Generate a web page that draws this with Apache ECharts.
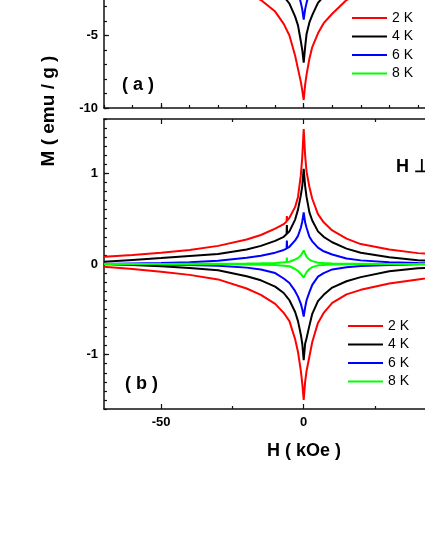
<!DOCTYPE html>
<html>
<head>
<meta charset="utf-8">
<script src="https://cdn.jsdelivr.net/npm/echarts@6/dist/echarts.min.js"></script>
<style>
  html, body { margin: 0; padding: 0; background: #fff; }
  #chart { width: 425px; height: 550px; }
</style>
</head>
<body>
<div id="chart"></div>
<script>
'use strict';

// field H (kOe), panel (a) and panel (b)
const fieldA = [-70, -60, -50, -40, -30, -20, -15, -10, -7, -5, -3, -2, -1, -0.5, 0, 0.5, 1, 2, 3, 5, 7, 10, 15, 20, 30, 40, 50, 60, 70];
const fieldB = [-70, -60, -50, -40, -30, -20, -15, -10, -7, -6, -5.9, -5.8, -5, -3, -2, -1, -0.5, 0, 0.5, 1, 2, 3, 5, 7, 10, 15, 20, 30, 40, 50, 60, 70];

const temps = ['2 K', '4 K', '6 K', '8 K'];
const colors = ['#ff0000', '#000000', '#0000ff', '#00ff00'];

// panel (a), M (emu/g)
const a2KUp   = [0.45, 0.6, 0.8, 1.1, 1.5, 2.1, 2.55, 3.5, 4.15, 4.85, 5.8, 6.6, 7.7, 8.4, 9.45, 8.8, 8.2, 7.3, 6.4, 5.0, 4.2, 3.35, 2.55, 2.1, 1.4, 1.0, 0.75, 0.55, 0.4];
const a2KDown = [-0.4, -0.55, -0.75, -1.0, -1.4, -2.1, -2.55, -3.35, -4.2, -5.0, -6.4, -7.3, -8.2, -8.8, -9.45, -8.4, -7.7, -6.6, -5.8, -4.85, -4.15, -3.5, -2.55, -2.1, -1.5, -1.1, -0.8, -0.6, -0.45];
const a4KUp   = [0.16, 0.22, 0.3, 0.42, 0.6, 0.95, 1.25, 1.8, 2.3, 2.75, 3.6, 4.1, 4.9, 5.8, 6.87, 6.0, 5.4, 4.3, 3.7, 2.8, 2.3, 1.8, 1.2, 0.9, 0.55, 0.38, 0.28, 0.2, 0.15];
const a4KDown = [-0.15, -0.2, -0.28, -0.38, -0.55, -0.9, -1.2, -1.8, -2.3, -2.8, -3.7, -4.3, -5.4, -6.0, -6.87, -5.8, -4.9, -4.1, -3.6, -2.75, -2.3, -1.8, -1.25, -0.95, -0.6, -0.42, -0.3, -0.22, -0.16];
const a6KUp   = [0.04, 0.05, 0.07, 0.1, 0.15, 0.27, 0.38, 0.55, 0.8, 1.05, 1.6, 2.0, 2.75, 3.2, 3.91, 3.2, 2.75, 2.0, 1.6, 1.1, 0.85, 0.6, 0.4, 0.28, 0.16, 0.11, 0.08, 0.06, 0.05];
const a6KDown = [-0.05, -0.06, -0.08, -0.11, -0.16, -0.28, -0.4, -0.6, -0.85, -1.1, -1.6, -2.0, -2.75, -3.2, -3.91, -3.2, -2.75, -2.0, -1.6, -1.05, -0.8, -0.55, -0.38, -0.27, -0.15, -0.1, -0.07, -0.05, -0.04];
const a8KUp   = [0, 0, 0, 0.005, 0.01, 0.01, 0.015, 0.03, 0.06, 0.1, 0.2, 0.3, 0.5, 0.65, 0.95, 0.65, 0.5, 0.32, 0.22, 0.12, 0.08, 0.05, 0.04, 0.03, 0.02, 0.015, 0.01, 0.01, 0.01];
const a8KDown = [-0.01, -0.01, -0.01, -0.015, -0.02, -0.03, -0.04, -0.05, -0.08, -0.12, -0.22, -0.32, -0.5, -0.65, -0.95, -0.65, -0.5, -0.3, -0.2, -0.1, -0.06, -0.03, -0.015, -0.01, -0.01, -0.005, 0, 0, 0];

// panel (b), M (emu/g)
const b2KUp   = [0.08, 0.10, 0.125, 0.155, 0.2, 0.27, 0.32, 0.39, 0.44, 0.47, 0.53, 0.48, 0.51, 0.63, 0.74, 0.98, 1.18, 1.49, 1.2, 1.02, 0.85, 0.72, 0.55, 0.46, 0.37, 0.28, 0.22, 0.16, 0.12, 0.1, 0.08, 0.06];
const b2KDown = [-0.03, -0.055, -0.085, -0.12, -0.17, -0.27, -0.34, -0.44, -0.54, -0.585, -0.59, -0.595, -0.63, -0.83, -0.97, -1.18, -1.32, -1.5, -1.3, -1.18, -1.02, -0.86, -0.65, -0.54, -0.43, -0.335, -0.285, -0.215, -0.17, -0.13, -0.1, -0.07];
const b4KUp   = [0.025, 0.045, 0.065, 0.088, 0.11, 0.16, 0.2, 0.255, 0.3, 0.33, 0.43, 0.335, 0.36, 0.49, 0.6, 0.76, 0.86, 1.05, 0.86, 0.74, 0.57, 0.48, 0.36, 0.3, 0.24, 0.17, 0.125, 0.075, 0.042, 0.025, 0.012, 0.0];
const b4KDown = [0.0, -0.01, -0.025, -0.045, -0.07, -0.135, -0.18, -0.25, -0.32, -0.36, -0.365, -0.37, -0.4, -0.53, -0.63, -0.78, -0.88, -1.06, -0.88, -0.82, -0.68, -0.55, -0.41, -0.34, -0.26, -0.19, -0.145, -0.08, -0.048, -0.03, -0.02, -0.01];
const b6KUp   = [0.0, 0.005, 0.01, 0.02, 0.035, 0.07, 0.09, 0.125, 0.155, 0.17, 0.26, 0.175, 0.19, 0.26, 0.31, 0.4, 0.47, 0.57, 0.46, 0.4, 0.3, 0.25, 0.18, 0.14, 0.105, 0.06, 0.04, 0.02, 0.01, 0.005, 0.0, 0.0];
const b6KDown = [0.0, -0.002, -0.005, -0.01, -0.02, -0.04, -0.06, -0.1, -0.16, -0.185, -0.187, -0.19, -0.21, -0.3, -0.36, -0.44, -0.5, -0.58, -0.48, -0.4, -0.31, -0.23, -0.14, -0.1, -0.06, -0.035, -0.022, -0.01, -0.004, 0.0, 0.0, 0.0];
const b8KUp   = [0.0, 0.0, 0.0, 0.002, 0.003, 0.005, 0.008, 0.012, 0.018, 0.021, 0.07, 0.022, 0.025, 0.05, 0.065, 0.095, 0.115, 0.15, 0.115, 0.08, 0.048, 0.032, 0.015, 0.01, 0.005, 0.003, 0.002, 0.0, 0.0, 0.0, 0.0, 0.0];
const b8KDown = [0.0, 0.0, 0.0, -0.002, -0.003, -0.005, -0.008, -0.012, -0.018, -0.021, -0.021, -0.022, -0.025, -0.055, -0.075, -0.11, -0.125, -0.15, -0.12, -0.09, -0.055, -0.035, -0.015, -0.01, -0.005, -0.003, -0.002, 0.0, 0.0, 0.0, 0.0, 0.0];

// tick values
const xMajorTicks = [-50, 0, 50];
const xMinorTicksB = [-25, 25];
const yMajorTicksA = [-10, -5, 0, 5, 10];
const yMajorTicksB = [-1, 0, 1];

const panelA = [[a2KUp, a2KDown], [a4KUp, a4KDown], [a6KUp, a6KDown], [a8KUp, a8KDown]];
const panelB = [[b2KUp, b2KDown], [b4KUp, b4KDown], [b6KUp, b6KDown], [b8KUp, b8KDown]];

const font = 'Liberation Sans, Arial, sans-serif';
const lineCol = '#111';

let chart = echarts.init(document.getElementById('chart'), null, { renderer: 'canvas' });

// one axis builder for all the overlaid axes
function axis(grid, pos, min, max, o) {
    return {
        type: 'value',
        gridIndex: grid,
        position: pos,
        min: min,
        max: max,
        interval: o.interval,
        axisLine: { show: !!o.line, onZero: false, lineStyle: { color: lineCol, width: 1.5 } },
        axisTick: {
            show: true,
            inside: true,
            length: o.len,
            customValues: o.ticks,
            lineStyle: { color: lineCol, width: 1.2 }
        },
        axisLabel: o.labels ? {
            show: true,
            customValues: o.labels,
            margin: o.margin,
            color: '#000',
            fontFamily: font,
            fontWeight: 'bold',
            fontSize: 13
        } : { show: false },
        splitLine: { show: false }
    };
}

let xAxes = [
    axis(0, 'bottom', -70, 70, { interval: 10, len: 3, line: true }),
    axis(0, 'bottom', -70, 70, { ticks: xMajorTicks, len: 5 }),
    axis(1, 'bottom', -70, 70, { ticks: xMinorTicksB, len: 3, line: true }),
    axis(1, 'bottom', -70, 70, { ticks: xMajorTicks, len: 5, labels: xMajorTicks, margin: 7 }),
    axis(1, 'top', -70, 70, { ticks: xMinorTicksB, len: 3, line: true }),
    axis(1, 'top', -70, 70, { ticks: xMajorTicks, len: 5 })
];

let yAxes = [
    axis(0, 'left', -10, 10, { interval: 1, len: 3, line: true }),
    axis(0, 'left', -10, 10, { ticks: yMajorTicksA, len: 5, labels: yMajorTicksA, margin: 6 }),
    axis(1, 'left', -1.6, 1.6, { interval: 0.1, len: 3, line: true }),
    axis(1, 'left', -1.6, 1.6, { ticks: yMajorTicksB, len: 5, labels: yMajorTicksB, margin: 6 })
];

let series = [];
const addPanel = (panel, field, xi, yi) => {
    panel.forEach((branches, t) => {
        branches.forEach(m => {
            series.push({
                type: 'line',
                name: temps[t],
                xAxisIndex: xi,
                yAxisIndex: yi,
                showSymbol: false,
                symbol: 'none',
                color: colors[t],
                lineStyle: { color: colors[t], width: 2 },
                data: field.map((h, i) => [h, m[i]])
            });
        });
    });
};
addPanel(panelA, fieldA, 0, 0);
addPanel(panelB, fieldB, 2, 2);

const legendOpt = (left, top) => ({
    data: temps,
    orient: 'vertical',
    left: left,
    top: top,
    icon: 'rect',
    itemWidth: 35,
    itemHeight: 2,
    itemGap: 2.5,
    selectedMode: false,
    textStyle: { color: '#000', fontFamily: font, fontSize: 14, lineHeight: 16 }
});

const label = (txt, x, y, size, extra) => Object.assign({
    type: 'text',
    x: x,
    y: y,
    style: {
        text: txt,
        fill: '#000',
        font: 'bold ' + size + 'px ' + font,
        verticalAlign: 'middle'
    }
}, extra || {});

let option = {
    animation: false,
    backgroundColor: '#fff',
    grid: [
        // the plot runs past the page edges, as in the cropped figure
        { left: 104, top: -182, width: 399.4, height: 290, outerBoundsMode: 'none', containLabel: false },
        { left: 104, top: 119, width: 399.4, height: 290, outerBoundsMode: 'none', containLabel: false }
    ],
    xAxis: xAxes,
    yAxis: yAxes,
    legend: [legendOpt(347, 5), legendOpt(343, 313)],
    graphic: [
        label('( a )', 122, 85, 18),
        label('( b )', 125, 384, 18),
        label('H \u22a5', 396, 167, 18),
        label('H ( kOe )', 304, 451, 18, { style: { text: 'H ( kOe )', fill: '#000', font: 'bold 18px ' + font, align: 'center', verticalAlign: 'middle' } }),
        label('M ( emu / g )', 49, 111, 19, { rotation: Math.PI / 2, style: { text: 'M ( emu / g )', fill: '#000', font: 'bold 19px ' + font, align: 'center', verticalAlign: 'middle' } })
    ],
    series: series
};

chart.setOption(option);
</script>
</body>
</html>
